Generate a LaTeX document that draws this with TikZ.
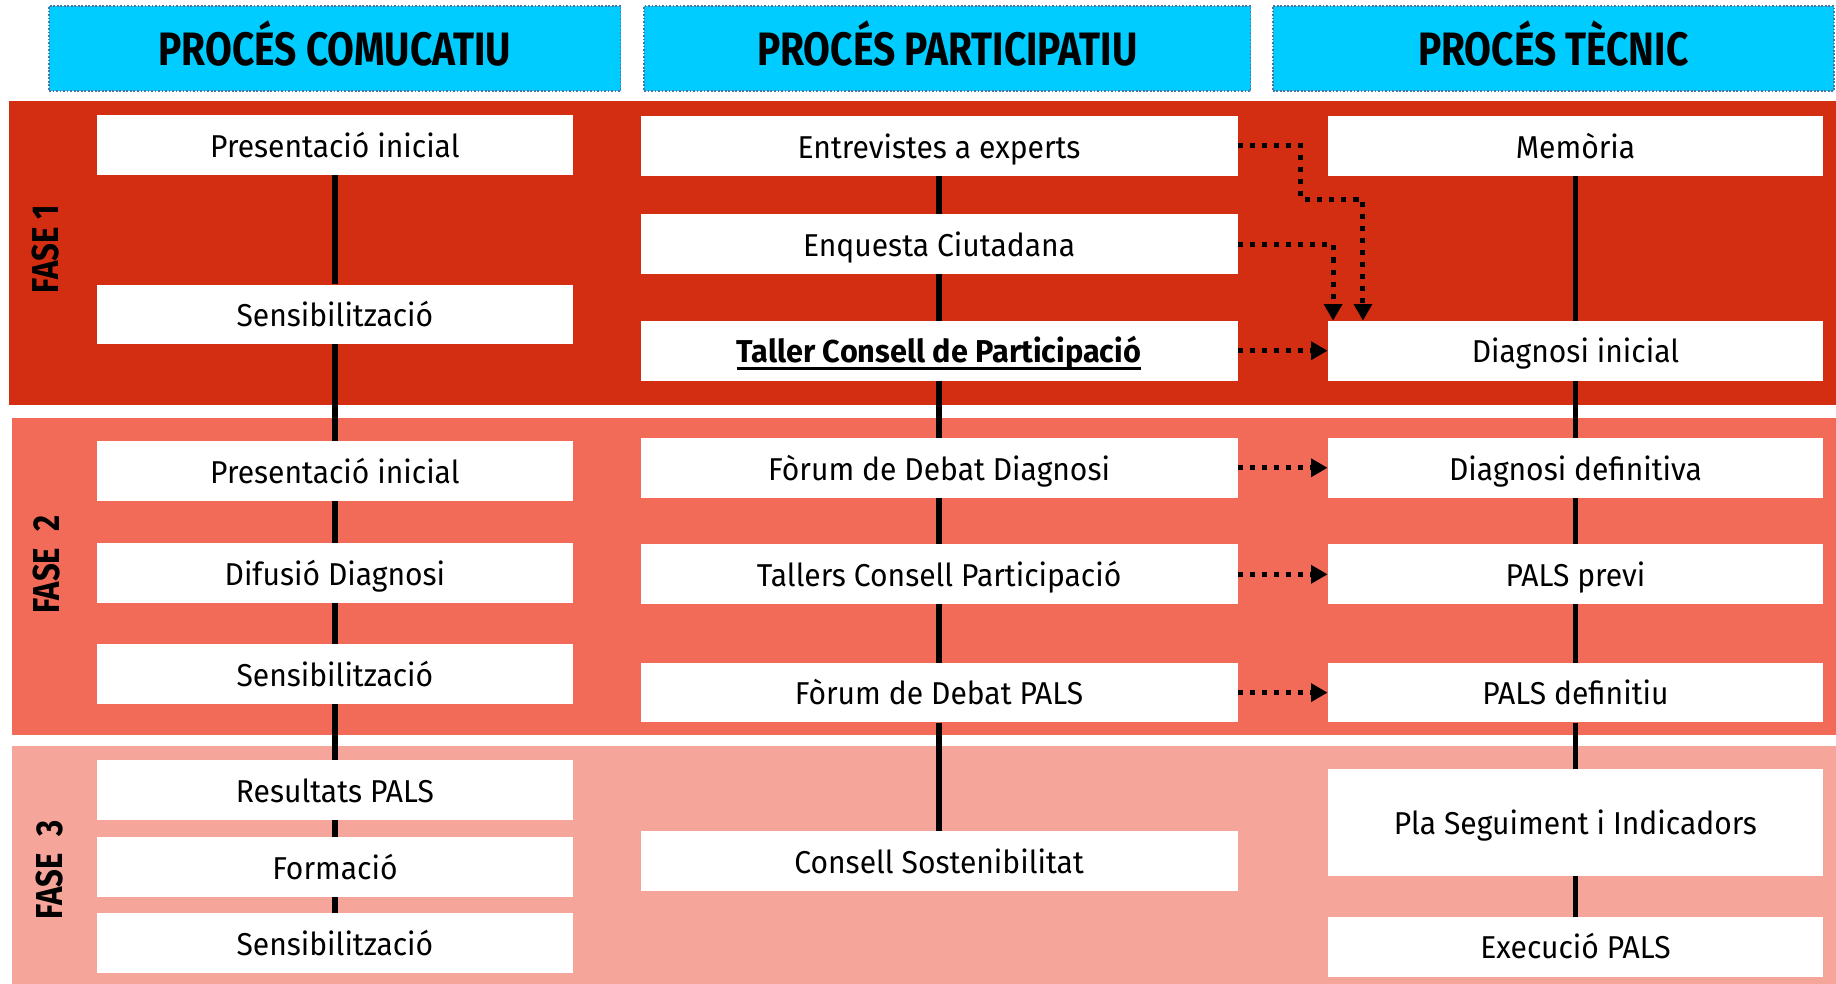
\documentclass[tikz,border=0pt]{standalone}
\usepackage{fontspec}
\setmainfont{Fira Sans}[FakeStretch=0.95]
\newfontfamily\hdfont[FakeStretch=0.83]{Fira Sans}
\newfontfamily\tbfont[FakeStretch=0.97]{Fira Sans}
\usetikzlibrary{arrows.meta}
\definecolor{fone}{RGB}{212,46,18}
\definecolor{ftwo}{RGB}{242,107,88}
\definecolor{fthree}{RGB}{246,165,154}
\definecolor{hdcyan}{RGB}{0,204,255}
\definecolor{hdline}{RGB}{80,115,160}
\newcommand\myul[1]{\setbox0\hbox{#1}\rlap{\rule[-6pt]{\wd0}{3pt}}\box0}
\tikzset{
  hdbox/.style={fill=hdcyan, draw=hdline, line width=1.5pt, dash pattern=on 1.5pt off 1.5pt, minimum height=73pt, inner sep=0pt, text height=29pt, text depth=0pt, font=\hdfont\bfseries\fontsize{40}{44}\selectfont},
  wbox/.style={fill=white, draw=none, minimum height=51pt, inner sep=0pt, text height=21pt, text depth=0pt, font=\fontsize{27}{30}\selectfont},
  cone/.style={wbox, minimum width=406pt},
  ctwo/.style={wbox, minimum width=510pt},
  cthree/.style={wbox, minimum width=423pt},
  vline/.style={line width=4.6pt, black},
  dotarrow/.style={line width=4.3pt, dash pattern=on 4.3pt off 6pt, -{Triangle[length=14pt,width=15pt]}},
  faselbl/.style={rotate=90, inner sep=0pt, font=\hdfont\bfseries\fontsize{32}{34}\selectfont}
}
\begin{document}
\begin{tikzpicture}[x=1pt,y=-1pt]
\useasboundingbox (0,0) rectangle (1568,840);
\fill[white] (0,0) rectangle (1568,840);
% phase bands
\fill[fone] (8,86) rectangle (1568,346);
\fill[ftwo] (10,357) rectangle (1568,628);
\fill[fthree] (10,637) rectangle (1568,840);
% headers
\node[hdbox, minimum width=488pt] (h1) at (286,41.5) {PROCÉS COMUCATIU};
\node[hdbox, minimum width=518pt] (h2) at (809,41.5) {PROCÉS PARTICIPATIU};
\node[hdbox, minimum width=479pt] (h3) at (1326.5,41.5) {PROCÉS TÈCNIC};
% phase labels
\node[faselbl] (f1) at (39,213) {FASE 1};
\node[faselbl] (f2) at (40,482) {FASE\hspace{0.25em} 2};
\node[faselbl] (f3) at (42,743) {FASE\hspace{0.25em} 3};
% column 1
\node[cone] (a1) at (286,124) {Presentació inicial};
\node[cone] (a2) at (286,268.5) {Sensibilització};
\node[cone] (a3) at (286,402.5) {Presentació inicial};
\node[cone] (a4) at (286,489.5) {Difusió Diagnosi};
\node[cone] (a5) at (286,575.5) {Sensibilització};
\node[cone] (a6) at (286,674.5) {Resultats PALS};
\node[cone] (a7) at (286,740.5) {Formació};
\node[cone] (a8) at (286,805.5) {Sensibilització};
% column 2
\node[ctwo] (b1) at (802,124.5) {Entrevistes a experts};
\node[ctwo] (b2) at (802,208.5) {Enquesta Ciutadana};
\node[ctwo] (b3) at (802,299.5) {\tbfont\bfseries\myul{Taller Consell de Participació}};
\node[ctwo] (b4) at (802,399.5) {Fòrum de Debat Diagnosi};
\node[ctwo] (b5) at (802,490.5) {Tallers Consell Participació};
\node[ctwo] (b6) at (802,591.5) {Fòrum de Debat PALS};
\node[ctwo] (b7) at (802,735.5) {Consell Sostenibilitat};
% column 3
\node[cthree] (c1) at (1345.5,124.5) {Memòria};
\node[cthree] (c2) at (1345.5,299.5) {Diagnosi inicial};
\node[cthree] (c3) at (1345.5,399.5) {Diagnosi definitiva};
\node[cthree] (c4) at (1345.5,490.5) {PALS previ};
\node[cthree] (c5) at (1345.5,591.5) {PALS definitiu};
\node[cthree, minimum height=91pt] (c6) at (1345.5,702.5) {Pla Seguiment i Indicadors};
\node[cthree] (c7) at (1345.5,808.5) {Execució PALS};
% vertical connectors
\foreach \u/\v in {a1/a2,a2/a3,a3/a4,a4/a5,a5/a6,a6/a7,a7/a8,b1/b2,b2/b3,b3/b4,b4/b5,b5/b6,b6/b7,c1/c2,c2/c3,c3/c4,c4/c5,c5/c6,c6/c7}
  \draw[vline] (\u.south) -- (\v.north);
% dotted arrows
\coordinate (k1) at (1111,170);
\coordinate (k2) at (1164,170);
\coordinate (k3) at (1138.5,208.5);
\draw[dotarrow] (b1.east) -| (k1) -- (k2) -- (k2 |- c2.north);
\draw[dotarrow] (b2.east) -- (k3) -- (k3 |- c2.north);
\draw[dotarrow] (b3.east) -- (c2.west);
\draw[dotarrow] (b4.east) -- (c3.west);
\draw[dotarrow] (b5.east) -- (c4.west);
\draw[dotarrow] (b6.east) -- (c5.west);
\end{tikzpicture}
\end{document}
